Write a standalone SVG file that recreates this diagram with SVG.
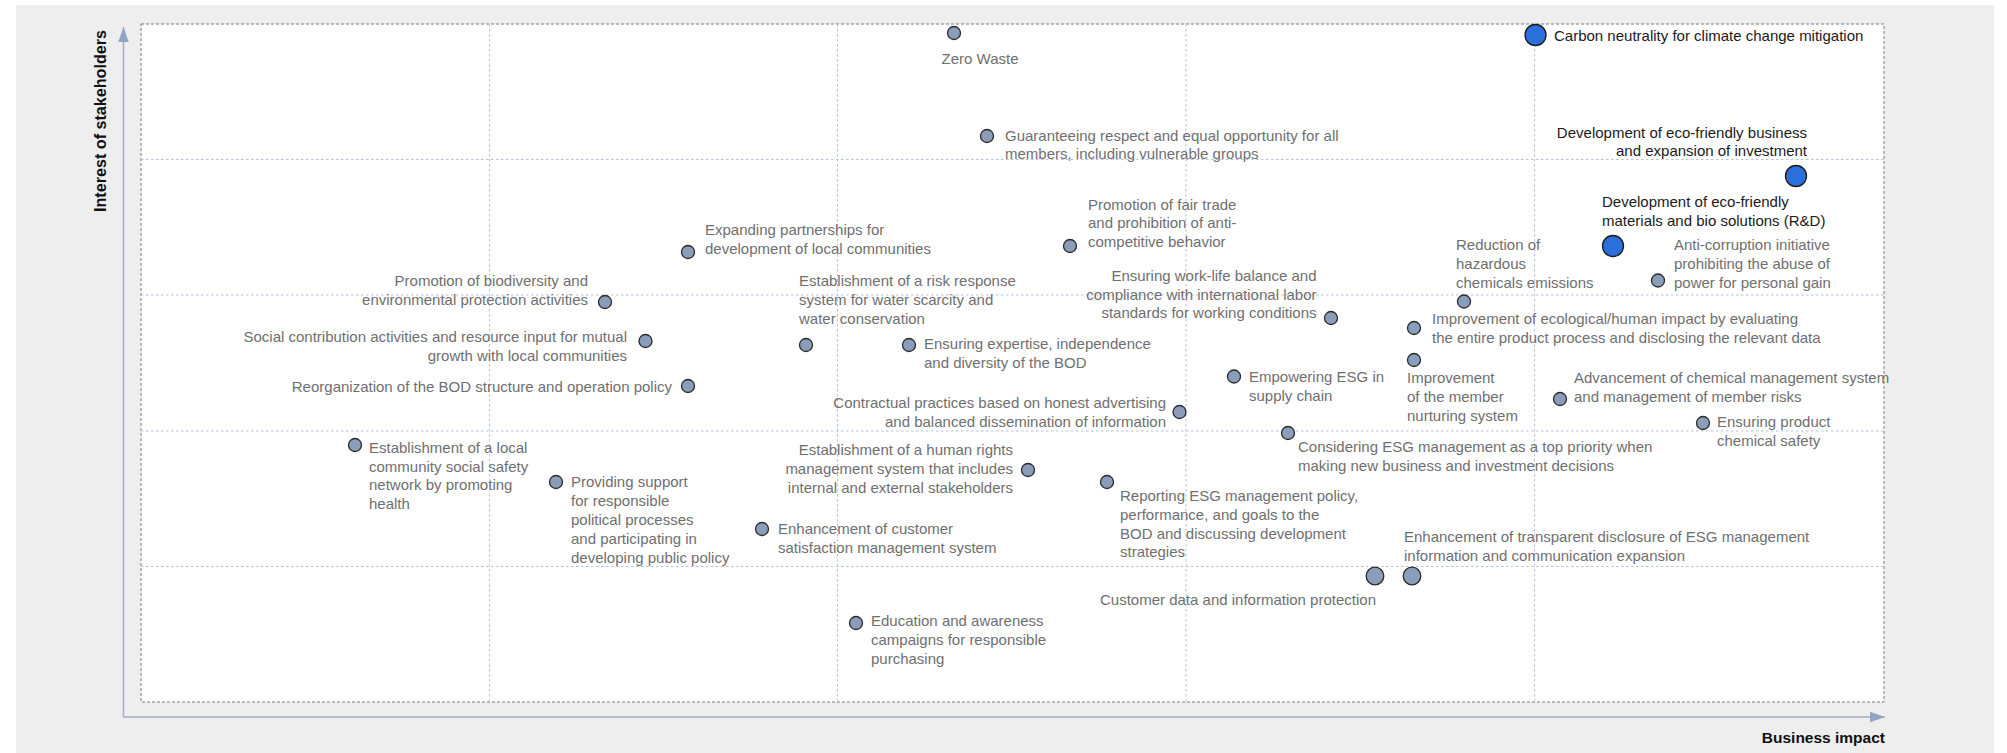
<svg xmlns="http://www.w3.org/2000/svg" width="2007" height="753" viewBox="0 0 2007 753">
<style>
.t{font-family:"Liberation Sans",Arial,sans-serif;font-size:15px;fill:#6f6f6f}
.d{fill:#1a1a1a}
.e{text-anchor:end}
.m{text-anchor:middle}
.n{fill:#8a9dba;stroke:#2a2a2a;stroke-width:1.3}
.b{fill:#2b6fdb;stroke:#1a1a1a;stroke-width:1.3}
.g{stroke:#b5c3dd;stroke-width:1;stroke-dasharray:2.5 2.5;fill:none}
.ax{font-family:"Liberation Sans",Arial,sans-serif;font-weight:bold;font-size:16px;fill:#111}
</style>
<defs>
<marker id="arr" viewBox="0 0 10 10" refX="10" refY="5" markerWidth="15" markerHeight="15" markerUnits="userSpaceOnUse" orient="auto">
<path d="M0,1.5 L10,5 L0,8.5 Z" fill="#8fa5c4"/>
</marker>
</defs>
<rect x="0" y="0" width="2007" height="753" fill="#ffffff"/>
<rect x="16" y="5" width="1978" height="748" fill="#eeeeee"/>
<rect x="141" y="24" width="1743" height="678" fill="#ffffff" stroke="#7a7a7a" stroke-width="1" stroke-dasharray="3 2"/>
<g id="grid">
<line class="g" x1="489.6" y1="24" x2="489.6" y2="702"/>
<line class="g" x1="837.5" y1="24" x2="837.5" y2="702"/>
<line class="g" x1="1186" y1="24" x2="1186" y2="702"/>
<line class="g" x1="1534.5" y1="24" x2="1534.5" y2="702"/>
<line class="g" x1="141" y1="159.5" x2="1884" y2="159.5"/>
<line class="g" x1="141" y1="295" x2="1884" y2="295"/>
<line class="g" x1="141" y1="431" x2="1884" y2="431"/>
<line class="g" x1="141" y1="566.5" x2="1884" y2="566.5"/>
</g>
<g id="connectors">
<path d="M123.5,717 L123.5,27" fill="none" stroke="#9fb0c8" stroke-width="1.5" marker-end="url(#arr)"/>
<path d="M123.5,717 L1885,717" fill="none" stroke="#9fb0c8" stroke-width="1.5" marker-end="url(#arr)"/>
</g>
<text class="ax" transform="translate(105.5,121) rotate(-90)" text-anchor="middle" textLength="182" lengthAdjust="spacingAndGlyphs">Interest of stakeholders</text>
<text class="ax" x="1885" y="743" text-anchor="end" style="font-size:15.5px">Business impact</text>

<g id="n-zero-waste"><circle class="n" cx="954" cy="33" r="6.5"/><text class="t m" x="980" y="64">Zero Waste</text></g>
<g id="n-equal-opportunity"><circle class="n" cx="987" cy="136" r="6.5"/><text class="t"><tspan x="1005" y="140.5">Guaranteeing respect and equal opportunity for all</tspan><tspan x="1005" y="159.3">members, including vulnerable groups</tspan></text></g>
<g id="n-carbon"><circle class="b" cx="1535.5" cy="35" r="10.5"/><text class="t d" x="1554" y="40.5">Carbon neutrality for climate change mitigation</text></g>
<g id="n-eco-business"><circle class="b" cx="1796" cy="176" r="10.5"/><text class="t d e"><tspan x="1807" y="137.5">Development of eco-friendly business</tspan><tspan x="1807" y="156.3">and expansion of investment</tspan></text></g>
<g id="n-eco-materials"><circle class="b" cx="1613" cy="246" r="10.5"/><text class="t d"><tspan x="1602" y="207">Development of eco-friendly</tspan><tspan x="1602" y="225.8">materials and bio solutions (R&amp;D)</tspan></text></g>
<g id="n-anti-corruption"><circle class="n" cx="1658" cy="280.5" r="6.5"/><text class="t"><tspan x="1674" y="250">Anti-corruption initiative</tspan><tspan x="1674" y="268.8">prohibiting the abuse of</tspan><tspan x="1674" y="287.6">power for personal gain</tspan></text></g>
<g id="n-hazardous"><circle class="n" cx="1464" cy="301.5" r="6.5"/><text class="t"><tspan x="1456" y="250">Reduction of</tspan><tspan x="1456" y="268.8">hazardous</tspan><tspan x="1456" y="287.6">chemicals emissions</tspan></text></g>
<g id="n-eco-impact"><circle class="n" cx="1414" cy="328" r="6.5"/><text class="t"><tspan x="1432" y="324">Improvement of ecological/human impact by evaluating</tspan><tspan x="1432" y="342.8">the entire product process and disclosing the relevant data</tspan></text></g>
<g id="n-member-nurturing"><circle class="n" cx="1414" cy="360" r="6.5"/><text class="t"><tspan x="1407" y="383.3">Improvement</tspan><tspan x="1407" y="402.1">of the member</tspan><tspan x="1407" y="420.9">nurturing system</tspan></text></g>
<g id="n-chem-mgmt"><circle class="n" cx="1560" cy="399" r="6.5"/><text class="t"><tspan x="1574" y="383.3">Advancement of chemical management system</tspan><tspan x="1574" y="402.1">and management of member risks</tspan></text></g>
<g id="n-product-safety"><circle class="n" cx="1703" cy="423" r="6.5"/><text class="t"><tspan x="1717" y="427.3">Ensuring product</tspan><tspan x="1717" y="446.1">chemical safety</tspan></text></g>
<g id="n-considering-esg"><circle class="n" cx="1288" cy="433" r="6.5"/><text class="t"><tspan x="1298" y="451.7">Considering ESG management as a top priority when</tspan><tspan x="1298" y="470.5">making new business and investment decisions</tspan></text></g>
<g id="n-supply-chain"><circle class="n" cx="1234" cy="376.5" r="6.5"/><text class="t"><tspan x="1249" y="381.7">Empowering ESG in</tspan><tspan x="1249" y="400.5">supply chain</tspan></text></g>
<g id="n-contractual"><circle class="n" cx="1179.5" cy="412" r="6.5"/><text class="t e"><tspan x="1166" y="407.7">Contractual practices based on honest advertising</tspan><tspan x="1166" y="426.5">and balanced dissemination of information</tspan></text></g>
<g id="n-human-rights"><circle class="n" cx="1028" cy="470" r="6.5"/><text class="t e"><tspan x="1013" y="455">Establishment of a human rights</tspan><tspan x="1013" y="473.8">management system that includes</tspan><tspan x="1013" y="492.6">internal and external stakeholders</tspan></text></g>
<g id="n-reporting"><circle class="n" cx="1107" cy="482" r="6.5"/><text class="t"><tspan x="1120" y="501">Reporting ESG management policy,</tspan><tspan x="1120" y="519.8">performance, and goals to the</tspan><tspan x="1120" y="538.6">BOD and discussing development</tspan><tspan x="1120" y="557.4">strategies</tspan></text></g>
<g id="n-transparent"><circle class="n" cx="1412" cy="576" r="8.8"/><text class="t"><tspan x="1404" y="541.7">Enhancement of transparent disclosure of ESG management</tspan><tspan x="1404" y="560.5">information and communication expansion</tspan></text></g>
<g id="n-customer-data"><circle class="n" cx="1375" cy="576" r="8.8"/><text class="t" x="1100" y="605">Customer data and information protection</text></g>
<g id="n-education"><circle class="n" cx="856" cy="623" r="6.5"/><text class="t"><tspan x="871" y="626">Education and awareness</tspan><tspan x="871" y="644.8">campaigns for responsible</tspan><tspan x="871" y="663.6">purchasing</tspan></text></g>
<g id="n-customer-satisfaction"><circle class="n" cx="762" cy="529" r="6.5"/><text class="t"><tspan x="778" y="534">Enhancement of customer</tspan><tspan x="778" y="552.8">satisfaction management system</tspan></text></g>
<g id="n-political"><circle class="n" cx="556" cy="482" r="6.5"/><text class="t"><tspan x="571" y="487.3">Providing support</tspan><tspan x="571" y="506.1">for responsible</tspan><tspan x="571" y="524.9">political processes</tspan><tspan x="571" y="543.7">and participating in</tspan><tspan x="571" y="562.5">developing public policy</tspan></text></g>
<g id="n-safety-net"><circle class="n" cx="355" cy="445" r="6.5"/><text class="t"><tspan x="369" y="452.7">Establishment of a local</tspan><tspan x="369" y="471.5">community social safety</tspan><tspan x="369" y="490.3">network by promoting</tspan><tspan x="369" y="509.1">health</tspan></text></g>
<g id="n-bod-structure"><circle class="n" cx="688" cy="386" r="6.5"/><text class="t e" x="672" y="391.7">Reorganization of the BOD structure and operation policy</text></g>
<g id="n-social-contribution"><circle class="n" cx="645.5" cy="341" r="6.5"/><text class="t e"><tspan x="627" y="342.3">Social contribution activities and resource input for mutual</tspan><tspan x="627" y="361.1">growth with local communities</tspan></text></g>
<g id="n-biodiversity"><circle class="n" cx="605" cy="302" r="6.5"/><text class="t e"><tspan x="588" y="286">Promotion of biodiversity and</tspan><tspan x="588" y="304.8">environmental protection activities</tspan></text></g>
<g id="n-partnerships"><circle class="n" cx="688" cy="252" r="6.5"/><text class="t"><tspan x="705" y="235">Expanding partnerships for</tspan><tspan x="705" y="253.8">development of local communities</tspan></text></g>
<g id="n-water"><circle class="n" cx="806" cy="345" r="6.5"/><text class="t"><tspan x="799" y="286">Establishment of a risk response</tspan><tspan x="799" y="304.8">system for water scarcity and</tspan><tspan x="799" y="323.6">water conservation</tspan></text></g>
<g id="n-bod-diversity"><circle class="n" cx="909" cy="345" r="6.5"/><text class="t"><tspan x="924" y="349">Ensuring expertise, independence</tspan><tspan x="924" y="367.8">and diversity of the BOD</tspan></text></g>
<g id="n-fair-trade"><circle class="n" cx="1070" cy="246" r="6.5"/><text class="t"><tspan x="1088" y="209.5">Promotion of fair trade</tspan><tspan x="1088" y="228.3">and prohibition of anti-</tspan><tspan x="1088" y="247.1">competitive behavior</tspan></text></g>
<g id="n-work-life"><circle class="n" cx="1331" cy="318" r="6.5"/><text class="t e"><tspan x="1316.5" y="280.7">Ensuring work-life balance and</tspan><tspan x="1316.5" y="299.5">compliance with international labor</tspan><tspan x="1316.5" y="318.3">standards for working conditions</tspan></text></g>
</svg>
